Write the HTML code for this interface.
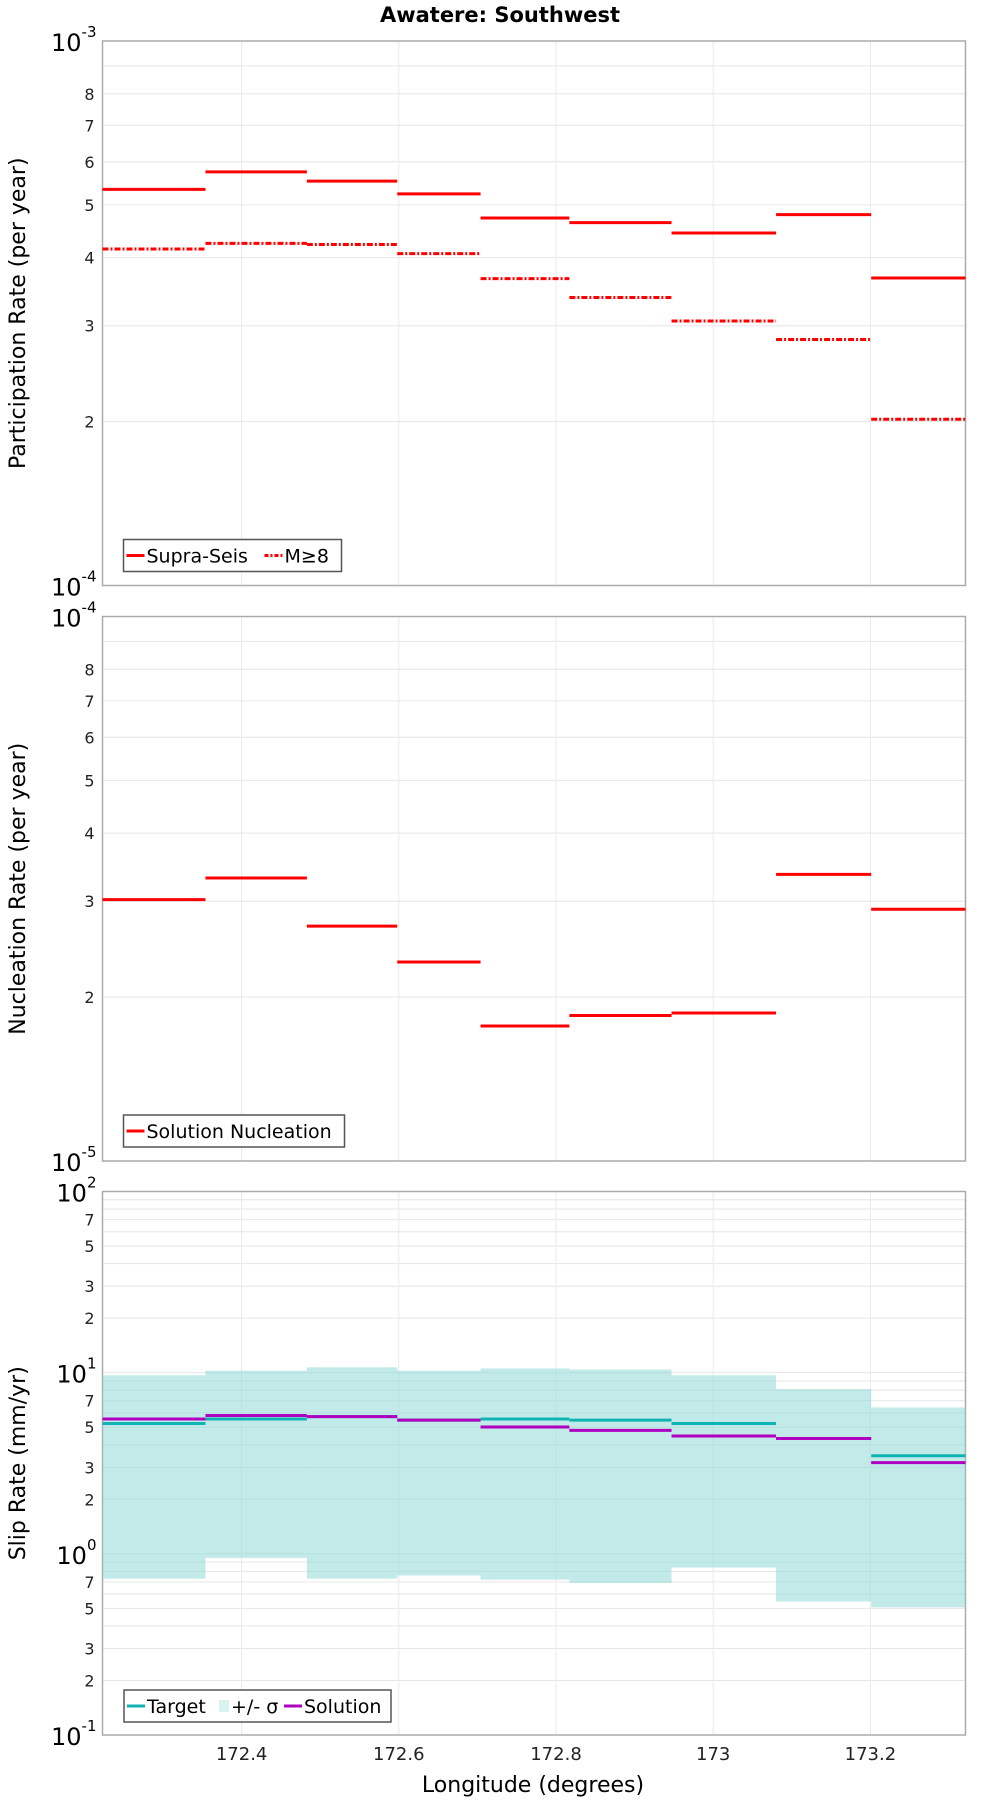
<!DOCTYPE html>
<html><head><meta charset="utf-8"><style>
html,body{margin:0;padding:0;background:#fff;}
svg{display:block;font-family:"DejaVu Sans","Liberation Sans",sans-serif;}
</style></head><body>
<svg id="chart" width="1000" height="1800" viewBox="0 0 1000 1800" xmlns="http://www.w3.org/2000/svg">
<text x="500" y="22" text-anchor="middle" font-size="21" font-weight="bold">Awatere: Southwest</text>
<text x="533" y="1792" text-anchor="middle" font-size="22">Longitude (degrees)</text>
</svg>
<script>
const binEdges = [172.223, 172.354, 172.483, 172.598, 172.704, 172.817, 172.947, 173.080, 173.201, 173.321];
const xTicks = [172.4, 172.6, 172.8, 173.0, 173.2];
const xTickLabels = ["172.4", "172.6", "172.8", "173", "173.2"];
const supraSeis = [5.34e-4, 5.75e-4, 5.53e-4, 5.24e-4, 4.73e-4, 4.64e-4, 4.44e-4, 4.80e-4, 3.67e-4];
const m8 = [4.15e-4, 4.25e-4, 4.23e-4, 4.07e-4, 3.66e-4, 3.38e-4, 3.06e-4, 2.83e-4, 2.02e-4];
const nucleation = [3.02e-5, 3.31e-5, 2.70e-5, 2.32e-5, 1.77e-5, 1.85e-5, 1.87e-5, 3.36e-5, 2.90e-5];
const slipTarget = [5.24, 5.55, 5.72, 5.47, 5.55, 5.47, 5.24, 4.33, 3.48];
const slipSolution = [5.55, 5.80, 5.72, 5.47, 5.01, 4.80, 4.47, 4.33, 3.19];
const slipUpper = [9.67, 10.25, 10.7, 10.25, 10.55, 10.4, 9.67, 8.12, 6.43];
const slipLower = [0.73, 0.95, 0.73, 0.76, 0.72, 0.69, 0.84, 0.545, 0.507];

const NS = "http://www.w3.org/2000/svg";
const svg = document.getElementById("chart");
const PL = 102.5, PR = 965.5, XMIN = 172.223, XMAX = 173.321;
function xs(v){ return PL + (v - XMIN) / (XMAX - XMIN) * (PR - PL); }
function mk(tag, attrs, parent){ const e = document.createElementNS(NS, tag); for (const k in attrs) e.setAttribute(k, attrs[k]); (parent||svg).appendChild(e); return e; }

function panel(top, bottom, eMin, eMax, minorLabels, title){
  const ys = v => bottom - (Math.log10(v) - eMin) / (eMax - eMin) * (bottom - top);
  const g = mk("g", {});
  
  
  for (let e = eMin; e < eMax; e++){
    for (let m = 2; m <= 9; m++){
      const y = ys(m * Math.pow(10, e));
      const gl = mk("line", {x1:PL, x2:PR, y1:y, y2:y, stroke:"#e6e6e6", "stroke-width":1}, g);
      
      
      if (minorLabels.includes(m)){
        const t = mk("text", {x:PL-8, y:y+6, "text-anchor":"end", "font-size":16, fill:"#222"}, g);
        
        
        t.textContent = m;
      }
    }
    const yy = ys(Math.pow(10, e));
    const gm = mk("line", {x1:PL, x2:PR, y1:yy, y2:yy, stroke:"#e6e6e6", "stroke-width":1}, g);
    
    
  }
  for (let e = eMin; e <= eMax; e++){
    const y = ys(Math.pow(10, e));
    const t = mk("text", {x:PL-6, y:y+10, "text-anchor":"end", "font-size":24}, g);
    
    
    const a = mk("tspan", {}, t); a.textContent = "10";
    const b = mk("tspan", {"font-size":15, dy:-14}, t); b.textContent = String(e);
  }
  xTicks.forEach(v => {
    const vl = mk("line", {x1:xs(v), x2:xs(v), y1:top, y2:bottom, stroke:"#eaeaea", "stroke-width":1}, g);
    
    
  });
  const fr = mk("rect", {x:PL, y:top, width:PR-PL, height:bottom-top, fill:"none", stroke:"#aaa", "stroke-width":1.5}, g);
  
  
  const yt = mk("text", {x:0, y:0, "text-anchor":"middle", "font-size":22, transform:`translate(25,${(top+bottom)/2}) rotate(-90)`}, g);
  
  
  yt.textContent = title;
  return {ys, g};
}
function steps(vals, ys, g, color, w, dash, name){
  vals.forEach((v, i) => {
    const y = ys(v);
    const a = {x1:xs(binEdges[i]), x2:xs(binEdges[i+1]), y1:y, y2:y, stroke:color, "stroke-width":w};
    if (dash) a["stroke-dasharray"] = dash;
    const l = mk("line", a, g);
    
    
  });
}
function legend(g, x, y, w, h, items){
  const lg = mk("g", {}, g);
  
  
  mk("rect", {x, y, width:w, height:h, fill:"#fff", stroke:"#555", "stroke-width":1.5}, lg);
  let cx = x + 3;
  items.forEach(it => {
    const cy = y + h/2;
    let sw;
    if (it.box){ sw = mk("rect", {x:cx+2, y:cy-6, width:10, height:12, fill:it.color, opacity:0.35}, lg); cx += 14; }
    else { const a = {x1:cx, x2:cx+18, y1:cy, y2:cy, stroke:it.color, "stroke-width":3}; if (it.dash) a["stroke-dasharray"]=it.dash; sw = mk("line", a, lg); cx += 20; }
    
    
    const t = mk("text", {x:cx, y:cy+7, "font-size":19}, lg);
    
    
    t.textContent = it.label;
    cx += it.tw;
  });
}

// Panel 1
const p1 = panel(41, 585.5, -4, -3, [2,3,4,5,6,7,8], "Participation Rate (per year)");
steps(supraSeis, p1.ys, p1.g, "#ff0000", 3, null, "supra-seis-bar");
steps(m8, p1.ys, p1.g, "#ff0000", 3, "6,2,2,2", "m8-bar");
legend(p1.g, 123.5, 539.5, 218, 32, [{label:"Supra-Seis", color:"#f00", tw:118},{label:"M≥8", color:"#f00", dash:"4,2,2,2", tw:50}]);

// Panel 2
const p2 = panel(616.5, 1161, -5, -4, [2,3,4,5,6,7,8], "Nucleation Rate (per year)");
steps(nucleation, p2.ys, p2.g, "#ff0000", 3, null, "nucleation-bar");
legend(p2.g, 123.5, 1115, 221, 32, [{label:"Solution Nucleation", color:"#f00", tw:200}]);

// Panel 3
const p3 = panel(1191.5, 1735, -1, 2, [2,3,5,7], "Slip Rate (mm/yr)");
slipUpper.forEach((u, i) => {
  const r = mk("rect", {x:xs(binEdges[i]), width:xs(binEdges[i+1])-xs(binEdges[i]), y:p3.ys(u), height:p3.ys(slipLower[i])-p3.ys(u), fill:"#8fd9d6", opacity:0.55}, p3.g);
  
  
});
steps(slipTarget, p3.ys, p3.g, "#10b3b3", 3, null, "target-bar");
steps(slipSolution, p3.ys, p3.g, "#b000c0", 3, null, "solution-bar");
legend(p3.g, 124, 1690, 267, 32, [{label:"Target", color:"#10b3b3", tw:70},{label:"+/- σ", color:"#8fd9d6", box:true, tw:53},{label:"Solution", color:"#b000c0", tw:90}]);

xTicks.forEach((v, i) => {
  const t = mk("text", {x:xs(v), y:1760, "text-anchor":"middle", "font-size":18, fill:"#222"});
  
  
  t.textContent = xTickLabels[i];
});
</script>
</body></html>
